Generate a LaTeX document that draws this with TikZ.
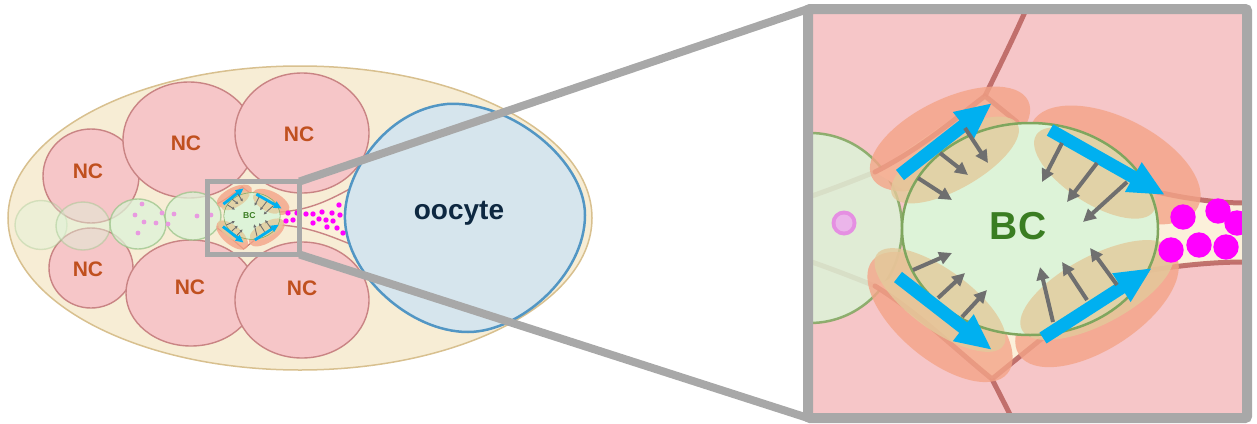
\documentclass[tikz,border=0pt]{standalone}
\usepackage{fontspec}
\setmainfont{Liberation Sans}
\usetikzlibrary{arrows.meta}

\definecolor{eggcream}{HTML}{F7EDD5}
\definecolor{eggedge}{HTML}{D8C08F}
\definecolor{ncpink}{HTML}{F6C6C8}
\definecolor{ncedge}{HTML}{C98484}
\definecolor{nctext}{HTML}{C0501F}
\definecolor{oofill}{HTML}{D6E5ED}
\definecolor{ooedge}{HTML}{5296C4}
\definecolor{ootext}{HTML}{0E2841}
\definecolor{bcgreen}{HTML}{DDF3D8}
\definecolor{bcedge}{HTML}{7FA65E}
\definecolor{chainedge}{HTML}{9CC48A}
\definecolor{bctext}{HTML}{3A7D22}
\definecolor{salmon}{HTML}{F4A488}
\definecolor{tanc}{HTML}{E3CA9B}
\definecolor{cyanarrow}{HTML}{00B0F0}
\definecolor{grayarrow}{HTML}{6F6F6F}
\definecolor{framegray}{HTML}{A8A8A8}
\definecolor{magentadot}{HTML}{FF00FF}
\definecolor{lightdot}{HTML}{E89AE0}
\definecolor{ringpink}{HTML}{E58FE2}
\definecolor{ringinner}{HTML}{EBB5EA}
\definecolor{boundary}{HTML}{B8605C}
\definecolor{gapcream}{HTML}{FBF0DA}

\tikzset{
  nurse/.style={fill=ncpink, draw=ncedge, line width=1.4},
  chaincell/.style={fill=bcgreen, draw=chainedge, line width=1.4},
  cellgreen/.style={fill=bcgreen, draw=bcedge, line width=2.5},
  salmonblob/.style={fill=salmon, opacity=0.8},
  tanblob/.style={fill=tanc, opacity=0.8},
  bigarrow/.style={draw=cyanarrow, line width=13, -{Triangle[length=0pt 2.8, width=0pt 2.4]}},
  smallarrow/.style={draw=grayarrow, line width=4, -{Triangle[length=0pt 3.2, width=0pt 3.1]}},
  cellline/.style={draw=boundary, line width=5, opacity=0.85, line cap=round},
  nclabel/.style={text=nctext, font=\bfseries\fontsize{21}{21}\selectfont, inner sep=0},
  oolabel/.style={text=ootext, font=\bfseries\fontsize{28}{28}\selectfont, inner sep=0},
  bclabel/.style={text=bctext, font=\bfseries\fontsize{39}{39}\selectfont, inner sep=0},
  zoomline/.style={draw=framegray, line width=8},
  magdot/.style={fill=magentadot},
  pinkdot/.style={fill=lightdot},
}

% border cell cluster, drawn around its own centre
\newcommand{\bccluster}[1]{%
  % gaps between the nurse cells at the two cusps
  \fill[gapcream] (-155,-57) -- (-45,-133) -- (-13,-107) -- (-40,-80) -- (-120,-35) -- cycle;
  \fill[gapcream] (-155,57) -- (-38,150) -- (15,107) -- (-40,85) -- (-120,40) -- cycle;
  % nurse cell membranes meeting at the cusps
  \draw[cellline] (-155,-57) .. controls (-110,-80) and (-75,-110) .. (-45,-133) -- (-13,-107);
  \draw[cellline] (-155,57) .. controls (-110,85) and (-75,120) .. (-38,150) -- (15,107);
  % outer border cells
  \fill[salmonblob, rotate around={26:(-80,-90)}] (-80,-90) ellipse [x radius=87, y radius=40];
  \fill[salmonblob, rotate around={-27:(85,-64)}] (85,-64) ellipse [x radius=93, y radius=47];
  \fill[salmonblob, rotate around={-40:(-90,88)}] (-90,88) ellipse [x radius=88, y radius=42];
  \fill[salmonblob, rotate around={33:(67,75)}] (67,75) ellipse [x radius=93, y radius=45];
  % central cluster
  \fill[bcgreen] (0,0) ellipse [x radius=128, y radius=106];
  \fill[tanblob, rotate around={30:(-75,-69)}] (-75,-69) ellipse [x radius=72, y radius=28];
  \fill[tanblob, rotate around={-33:(65,-56)}] (65,-56) ellipse [x radius=70, y radius=30];
  \fill[tanblob, rotate around={-36:(-90,71)}] (-90,71) ellipse [x radius=78, y radius=30];
  \fill[tanblob, rotate around={28:(67,61)}] (67,61) ellipse [x radius=85, y radius=34];
  \draw[bcedge, line width=2.5] (0,0) ellipse [x radius=128, y radius=106];
  % collective migration direction
  \draw[bigarrow] (-130,-54) -- (-38,-126);
  \draw[bigarrow] (20,-99) -- (135,-34);
  \draw[bigarrow] (-132,48) -- (-38,121);
  \draw[bigarrow] (13,109) -- (122,39);
  % inward forces
  \draw[smallarrow] (-65,-101) -- (-42,-66);
  \draw[smallarrow] (-90,-76) -- (-62,-54);
  \draw[smallarrow] (-112,-51) -- (-78,-29);
  \draw[smallarrow] (32,-86) -- (12,-47);
  \draw[smallarrow] (67,-66) -- (37,-27);
  \draw[smallarrow] (97,-47) -- (53,-7);
  \draw[smallarrow] (-117,41) -- (-78,24);
  \draw[smallarrow] (-92,69) -- (-65,44);
  \draw[smallarrow] (-68,88) -- (-43,61);
  \draw[smallarrow] (23,93) -- (10,38);
  \draw[smallarrow] (57,71) -- (32,33);
  \draw[smallarrow] (87,56) -- (60,19);
  \node[bclabel] (#1) at (-12,-3) {BC};
}

\begin{document}
\begin{tikzpicture}[x=1pt,y=-1pt]
\useasboundingbox (0,0) rectangle (1257,423);

% ---------- egg chamber ----------
\filldraw[fill=eggcream, draw=eggedge, line width=1.5] (300,218) ellipse [x radius=292, y radius=152];

% nurse cells
\draw[nurse] (91,176) ellipse [x radius=48, y radius=47];
\draw[nurse] (91,268) ellipse [x radius=42, y radius=40];
\draw[nurse] (189,140) ellipse [x radius=66, y radius=58];
\draw[nurse] (191,293) ellipse [x radius=65, y radius=53];
\draw[nurse] (302,133) ellipse [x radius=67, y radius=60];
\draw[nurse] (302,300) ellipse [x radius=67, y radius=58];

% channel between nurse cells leading to the oocyte
\fill[gapcream] (280,212) .. controls (310,210) and (330,200) .. (355,186) -- (355,246) .. controls (330,236) and (310,227) .. (280,225) -- cycle;
\draw[ncedge, line width=1.4] (280,212) .. controls (310,210) and (330,200) .. (355,186);
\draw[ncedge, line width=1.4] (280,225) .. controls (310,227) and (330,236) .. (355,246);

% oocyte
\filldraw[fill=oofill, draw=ooedge, line width=2.5]
  (345,220) .. controls (343,175) and (385,110) .. (447,104)
            .. controls (510,100) and (585,160) .. (585,215)
            .. controls (585,275) and (520,332) .. (468,332)
            .. controls (410,332) and (347,275) .. cycle;

% trail of cells behind the cluster
\draw[chaincell, opacity=0.35] (41,225) ellipse [x radius=26, y radius=24.5];
\draw[chaincell, opacity=0.45] (83,226) ellipse [x radius=27, y radius=24];
\draw[chaincell, opacity=0.75] (138,224) ellipse [x radius=28, y radius=25];
\draw[chaincell, opacity=0.75] (193,216) ellipse [x radius=28, y radius=24];
\foreach \p in {(142,204),(135,215),(144,222),(156,223),(138,233),(162,213),(168,224),(174,214),(197,216),(211,215)}
  \fill[pinkdot] \p circle (2.4);

% small border cell cluster
\begin{scope}[transform canvas={shift={(252,216)}, scale=0.22}]
  \bccluster{bcsmall}
\end{scope}

% particles in the channel
\foreach \p in {(288,213),(297,213),(286,221),(293,220),(306,214),(313,214),(322,212),(313,223),(319,219),(326,220),(332,213),(333,221),(339,205),(340,215),(327,227),(337,228),(343,233)}
  \fill[magdot] \p circle (2.7);

% labels
\node[nclabel] (nc1) at (88,171) {NC};
\node[nclabel] (nc2) at (88,269) {NC};
\node[nclabel] (nc3) at (186,143) {NC};
\node[nclabel] (nc4) at (190,287) {NC};
\node[nclabel] (nc5) at (299,134) {NC};
\node[nclabel] (nc6) at (302,288) {NC};
\node[oolabel] (oo) at (459,213) {oocyte};

% inset frame
\node[draw=framegray, line width=5, minimum width=92, minimum height=73, inner sep=0, outer sep=0] (inset) at (253.5,218) {};

% ---------- enlarged view ----------
\begin{scope}
  \clip (813,14) rectangle (1242,413);
  \fill[ncpink] (813,14) rectangle (1242,413);
  % channel towards the oocyte
  \fill[gapcream] (1140,188) .. controls (1180,198) and (1215,203) .. (1245,203) -- (1245,262) .. controls (1215,262) and (1180,265) .. (1140,272) -- cycle;
  \draw[cellline] (1140,188) .. controls (1180,198) and (1215,203) .. (1245,203);
  \draw[cellline] (1140,272) .. controls (1180,265) and (1215,262) .. (1245,262);
  % nurse cell membranes
  \draw[cellline] (800,200) .. controls (830,190) and (855,180) .. (875,172);
  \draw[cellline] (800,258) .. controls (830,268) and (855,278) .. (875,286);
  \draw[cellline] (985,96) .. controls (1000,65) and (1015,35) .. (1028,5);
  \draw[cellline] (992,379) .. controls (1000,395) and (1008,410) .. (1015,425);
  % trailing cell
  \draw[cellgreen, opacity=0.85] (810,228) ellipse [x radius=92, y radius=95];
  \fill[ringpink] (844,223) circle (12.5);
  \fill[ringinner] (844,223) circle (8.5);
  \begin{scope}[shift={(1030,229)}]
    \bccluster{bcbig}
  \end{scope}
  \foreach \p in {(1183,217),(1218,211),(1237,223),(1171,250),(1199,245),(1226,247)}
    \fill[magdot] \p circle (12.7);
\end{scope}
\node[draw=framegray, line width=10, rounded corners=2, minimum width=439, minimum height=409, inner sep=0, outer sep=0] (zoomframe) at (1027.5,213.5) {};

% zoom connectors
\draw[zoomline] (inset.north east) -- (zoomframe.north west);
\draw[zoomline] (inset.south east) -- (zoomframe.south west);
\end{tikzpicture}
\end{document}
